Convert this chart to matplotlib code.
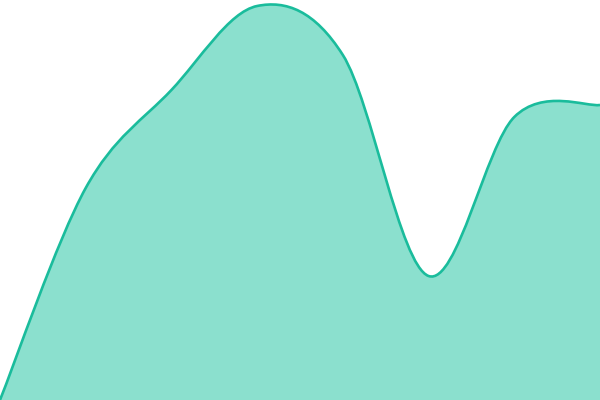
import numpy as np
import matplotlib
matplotlib.use('Agg')
import matplotlib.pyplot as plt
from matplotlib.path import Path
from matplotlib.patches import PathPatch

# values, height from the bottom (0..400)
x_vals = [0, 1, 2, 3, 4, 5, 6, 7]
y_vals = [0, 212, 310, 394, 345, 124, 283, 295]

line_color = '#1abc9c'
fill_color = '#8be0ce'


def cardinal_path(xs, ys):
    # catmull-rom as cubic bezier segments (like d3 curveCardinal, tension 0)
    pts = np.column_stack([xs, ys]).astype(float)
    ext = np.vstack([pts[0], pts, pts[-1]])
    verts = [tuple(pts[0])]
    codes = [Path.MOVETO]
    for i in range(1, len(ext) - 2):
        p0, p1, p2, p3 = ext[i - 1], ext[i], ext[i + 1], ext[i + 2]
        c1 = p1 + (p2 - p0) / 6.0
        c2 = p2 - (p3 - p1) / 6.0
        verts += [tuple(c1), tuple(c2), tuple(p2)]
        codes += [Path.CURVE4] * 3
    return verts, codes


verts, codes = cardinal_path(x_vals, y_vals)

fig = plt.figure(figsize=(6, 4), dpi=100)
ax = fig.add_axes([0, 0, 1, 1])

# area: curve then down to the baseline
area_verts = verts + [(x_vals[-1], 0), (x_vals[0], 0), verts[0]]
area_codes = codes + [Path.LINETO, Path.LINETO, Path.CLOSEPOLY]
ax.add_patch(PathPatch(Path(area_verts, area_codes), facecolor=fill_color, edgecolor='none'))
ax.add_patch(PathPatch(Path(verts, codes), facecolor='none', edgecolor=line_color, lw=1.9))

ax.set_xlim(x_vals[0], x_vals[-1])
ax.set_ylim(0, 400)
ax.axis('off')

fig.savefig('out.png', dpi=100)
